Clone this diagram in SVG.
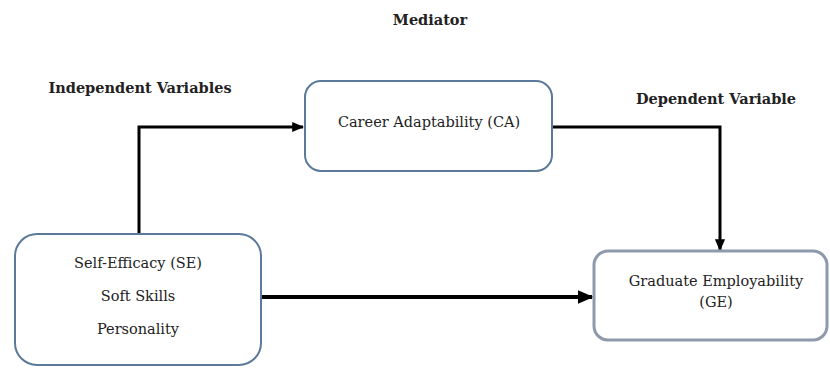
<svg xmlns="http://www.w3.org/2000/svg" width="830" height="368" viewBox="0 0 830 368">
<style>
.lbl{font-family:"DejaVu Serif","Liberation Serif",serif;font-weight:bold;font-size:14.5px;fill:#222}
.txt{font-family:"DejaVu Serif","Liberation Serif",serif;font-size:14.5px;fill:#222}
.box{fill:#fff;stroke:#5b7a99;stroke-width:2}
.box2{fill:#fff;stroke:#8e9aab;stroke-width:3}
.con{fill:none;stroke:#000;stroke-width:3}
</style>
<defs>
<marker id="ah" markerWidth="4" markerHeight="4" refX="3.6" refY="2" orient="auto" markerUnits="strokeWidth">
<path d="M0,0.3 L4,2 L0,3.7 Z" fill="#000"/>
</marker>
</defs>
<rect width="830" height="368" fill="#fff"/>
<text class="lbl" x="430" y="25" text-anchor="middle">Mediator</text>
<text class="lbl" x="140" y="93" text-anchor="middle">Independent Variables</text>
<text class="lbl" x="716" y="104" text-anchor="middle">Dependent Variable</text>
<g id="connectors">
<path class="con" d="M139,234 V127 H303" marker-end="url(#ah)"/>
<path class="con" d="M552,127 H720 V250" marker-end="url(#ah)"/>
<path class="con" d="M261,297 H592" marker-end="url(#ah)" style="stroke-width:4"/>
</g>
<g id="ca">
<rect class="box" x="305" y="81" width="247" height="90" rx="16"/>
<text class="txt" x="429" y="127" text-anchor="middle">Career Adaptability (CA)</text>
</g>
<g id="se">
<rect class="box" x="15" y="234" width="246" height="131" rx="22"/>
<text class="txt" x="138" y="268" text-anchor="middle">Self-Efficacy (SE)</text>
<text class="txt" x="138" y="301" text-anchor="middle">Soft Skills</text>
<text class="txt" x="138" y="334" text-anchor="middle">Personality</text>
</g>
<g id="ge">
<rect class="box2" x="594" y="251" width="233" height="89" rx="14"/>
<text class="txt" x="716" y="286" text-anchor="middle">Graduate Employability</text>
<text class="txt" x="716" y="307" text-anchor="middle">(GE)</text>
</g>
</svg>
